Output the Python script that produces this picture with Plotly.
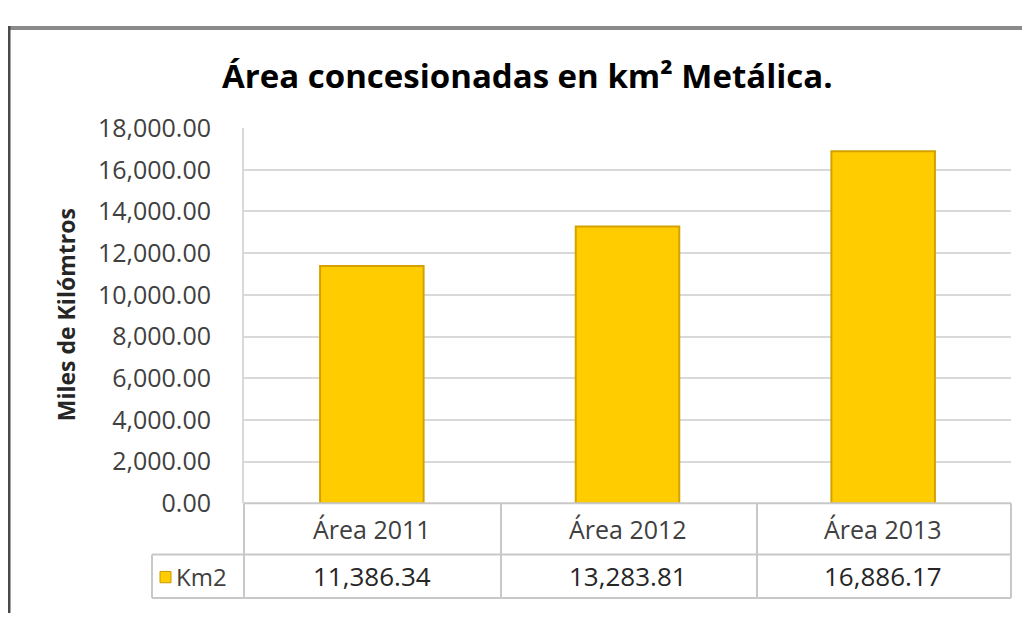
import plotly.graph_objects as go

# ---- data ----
categories = ["Área 2011", "Área 2012", "Área 2013"]
values = [11386.34, 13283.81, 16886.17]
series_name = "Km2"
title_text = "Área concesionadas en km² Metálica."
y_title = "Miles de Kilómtros"
y_ticks = [0, 2000, 4000, 6000, 8000, 10000, 12000, 14000, 16000, 18000]

W, H = 1030, 621
FONT = "Open Sans"
OFF = 8  # page body margin

def px(x):
    return (x - OFF) / W

def py(y):
    return 1 - (y - OFF) / H

# plot area in (screen) pixels
L, R, T, B = 244, 1011, 116, 513
ROW1, ROW2 = 567, 613
LEG_L = 152

fig = go.Figure()
fig.add_trace(go.Bar(
    x=categories, y=values, name=series_name,
    marker=dict(color="#FFCC00", line=dict(color="#D4A200", width=2)),
    showlegend=False,
))

grid = "#D9D9D9"
tbl = "#C8C8C8"

shapes = []
for yy in (ROW1, ROW2):
    shapes.append(dict(type="line", xref="paper", yref="paper",
                       x0=px(LEG_L), x1=px(R), y0=py(yy), y1=py(yy),
                       line=dict(color=tbl, width=2)))
shapes.append(dict(type="line", xref="paper", yref="paper",
                   x0=px(L), x1=px(R), y0=py(B), y1=py(B),
                   line=dict(color=tbl, width=2)))
for xx in (L, 501, 757, R):
    shapes.append(dict(type="line", xref="paper", yref="paper",
                       x0=px(xx), x1=px(xx), y0=py(B), y1=py(ROW2),
                       line=dict(color=tbl, width=2)))
shapes.append(dict(type="line", xref="paper", yref="paper",
                   x0=px(LEG_L), x1=px(LEG_L), y0=py(ROW1), y1=py(ROW2),
                   line=dict(color=tbl, width=2)))
# legend key
shapes.append(dict(type="rect", xref="paper", yref="paper",
                   x0=px(160), x1=px(171), y0=py(597), y1=py(585),
                   fillcolor="#FFCC00", line=dict(color="#C89A00", width=1)))
# outer frame (top and left border of chart object)
shapes.append(dict(type="line", xref="paper", yref="paper",
                   x0=0, x1=1, y0=py(10), y1=py(10),
                   line=dict(color="#8A8A8A", width=4)))
shapes.append(dict(type="line", xref="paper", yref="paper",
                   x0=px(9), x1=px(9), y0=py(8), y1=0,
                   line=dict(color="#4A4A4A", width=3)))

annotations = []
for c, v in zip(categories, values):
    annotations.append(dict(x=c, xref="x", y=py((B + ROW1) / 2), yref="paper",
                            xanchor="center", yanchor="middle",
                            text=c, showarrow=False,
                            font=dict(family=FONT, size=25, color="#404040")))
    annotations.append(dict(x=c, xref="x", y=py((ROW1 + ROW2) / 2), yref="paper",
                            xanchor="center", yanchor="middle",
                            text=f"{v:,.2f}", showarrow=False,
                            font=dict(family=FONT, size=26, color="#262626")))
annotations.append(dict(x=px(174), xref="paper", xanchor="left",
                        y=py((ROW1 + ROW2) / 2), yref="paper", yanchor="middle",
                        text=series_name, showarrow=False,
                        font=dict(family=FONT, size=24, color="#404040")))
annotations.append(dict(x=px(527), xref="paper", xanchor="center",
                        y=py(60), yref="paper", yanchor="middle",
                        text=f"<b>{title_text}</b>", showarrow=False,
                        font=dict(family=FONT, size=33, color="#000000")))
annotations.append(dict(x=px(66), xref="paper", xanchor="center",
                        y=py(314), yref="paper", yanchor="middle",
                        text=f"<b>{y_title}</b>", showarrow=False, textangle=-90,
                        font=dict(family=FONT, size=23, color="#262626")))

fig.update_layout(
    width=W, height=H,
    margin=dict(l=0, r=0, t=0, b=0),
    paper_bgcolor="white", plot_bgcolor="white",
    bargap=0.595,
    xaxis=dict(domain=[px(L), px(R)], showticklabels=False, showgrid=False,
               zeroline=False, showline=False, ticks=""),
    yaxis=dict(domain=[py(B), py(T)], range=[0, 18000], tickvals=y_ticks,
               tickformat=",.2f", showgrid=True, gridcolor=grid, gridwidth=2,
               zeroline=False, showline=True, linecolor=grid, linewidth=2,
               ticks="", ticklabelstandoff=26,
               tickfont=dict(family=FONT, size=25, color="#404040")),
    shapes=shapes, annotations=annotations,
    font=dict(family=FONT),
)

fig.write_html("out.html")
